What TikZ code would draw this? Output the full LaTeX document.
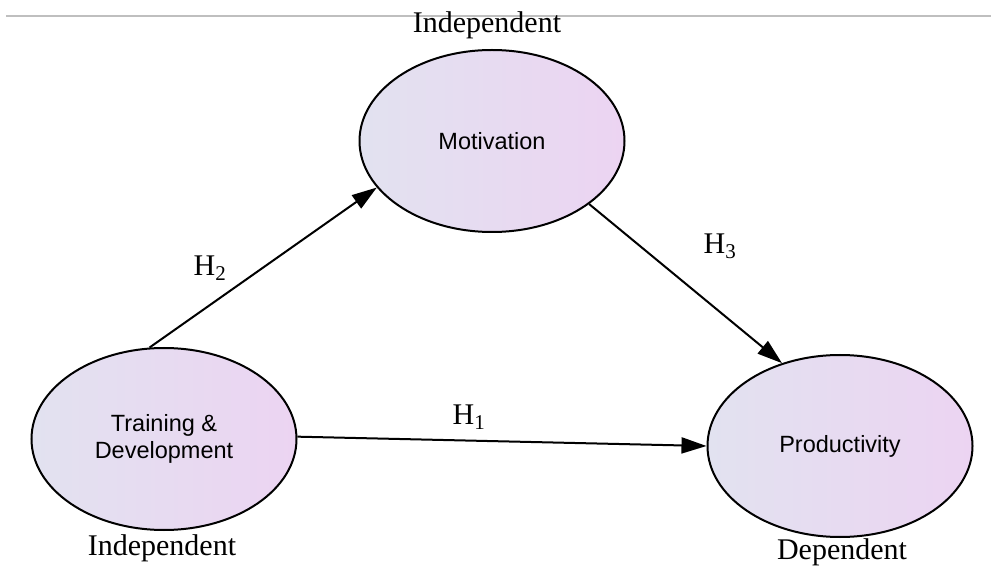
\documentclass[tikz,border=0pt]{standalone}
\usepackage{fontspec}
\setmainfont{Liberation Serif}
\newfontfamily\arialfont{Liberation Sans}
\usepackage{tikz}
\usetikzlibrary{arrows.meta,positioning,shapes.geometric}
\definecolor{shadeleft}{RGB}{226,226,240}
\definecolor{shaderight}{RGB}{236,212,242}
\newcommand{\hyp}[1]{H\textsubscript{#1}}

\begin{document}
\begin{tikzpicture}[
    x = 1pt, y = -1pt,
    construct/.style =
    { shape        = ellipse,
      draw,
      line width   = 2pt,
      left color   = shadeleft,
      right color  = shaderight,
      align        = center,
      inner sep    = 0pt,
      font         = \arialfont\fontsize{23.5}{27}\selectfont,
      minimum width  = 265pt,
      minimum height = 182pt },
    path/.style =
    { -{Triangle[length=25pt,width=16pt]},
      line width = 2pt },
    hyp/.style =
    { font = \fontsize{30}{32}\selectfont },
    role/.style =
    { font = \fontsize{30}{32}\selectfont,
      inner sep = 0pt }
  ]
  \useasboundingbox (0,0) rectangle (991,569);
  \draw[gray!50, line width = 2pt] (6,16) -- (991,16);

  \node[construct] (train) at (164,439) {Training \&\\Development};
  \node[construct] (motiv) at (492,141) {Motivation};
  \node[construct] (prod)  at (840,446) {Productivity};

  \node[role] (trainrole) at (162,548) {Independent};
  \node[role] (motivrole) at (487,25)  {Independent};
  \node[role] (prodrole)  at (842,552) {Dependent};

  \draw[path] (train.99) -- (motiv.202);
  \draw[path] (motiv.-33) -- (prod.125);
  \draw[path] (train.1) -- (prod.180);

  \node[hyp] (h2) at (210,268) {\hyp{2}};
  \node[hyp] (h3) at (720,246) {\hyp{3}};
  \node[hyp] (h1) at (469,417) {\hyp{1}};
\end{tikzpicture}
\end{document}
